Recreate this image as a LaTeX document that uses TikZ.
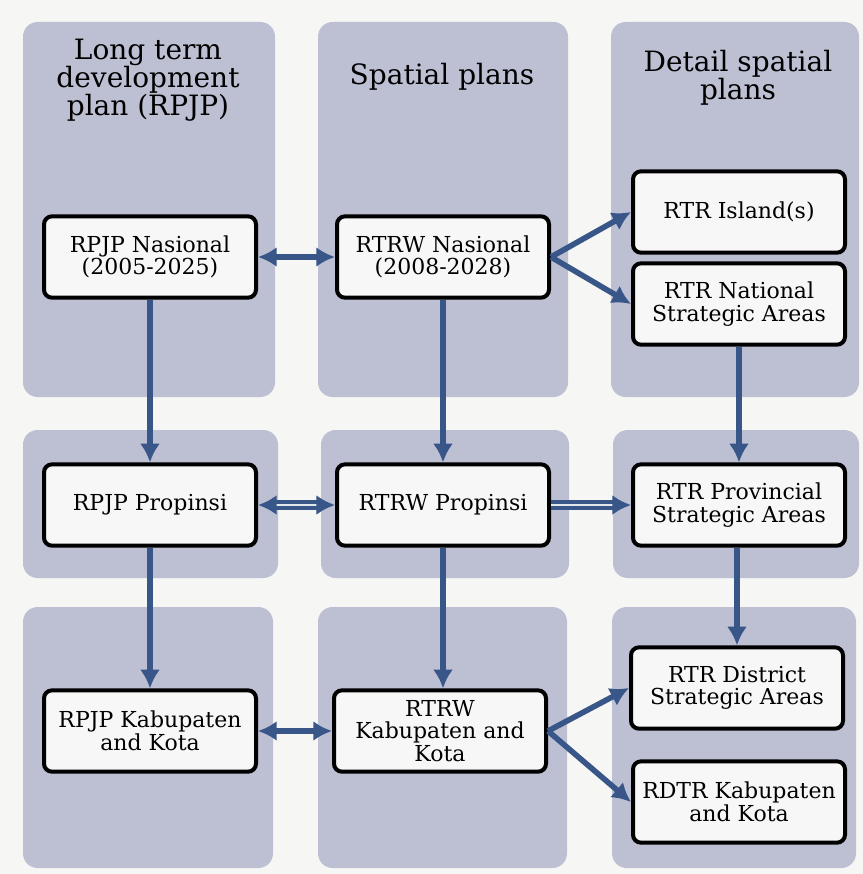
\documentclass[tikz,border=0pt]{standalone}
\usepackage{fontspec}
\setmainfont{DejaVu Serif}
\usepackage{xcolor}
\usetikzlibrary{arrows.meta}
\definecolor{pagebg}{RGB}{246,246,244}
\definecolor{panelgrey}{RGB}{189,191,211}
\definecolor{flowblue}{RGB}{56,86,136}
\tikzstyle{panel} = [fill=panelgrey, rounded corners=11pt]
\tikzstyle{paneltitle} = [align=center, text=black, font=\fontsize{21}{21}\selectfont]
\tikzstyle{planbox} = [draw=black, fill=white!97!black, line width=3pt, rectangle, rounded corners=6pt, minimum width=159pt, minimum height=61pt, align=center, inner sep=2pt, text=black, font=\fontsize{16.5}{17}\selectfont]
\tikzstyle{flow} = [draw=flowblue, line width=4.2pt, -{Latex[length=14pt,width=15pt]}]
\tikzstyle{flowboth} = [flow, {Latex[length=14pt,width=15pt]}-{Latex[length=14pt,width=15pt]}]
\tikzstyle{flowdouble} = [flow, line width=2.6pt, double=white!85!flowblue, double distance=1.6pt]

\begin{document}
\begin{tikzpicture}[x=0.75pt, y=-0.75pt]
\fill[pagebg] (0,0) rectangle (863,874);
\useasboundingbox (0,0) rectangle (863,874);

% columns
\path[panel] (23,22) rectangle (275,397);
\path[panel] (318,22) rectangle (568,397);
\path[panel] (611,22) rectangle (859,397);
\path[panel] (23,430) rectangle (278,578);
\path[panel] (321,430) rectangle (569,578);
\path[panel] (613,430) rectangle (859,578);
\path[panel] (23,607) rectangle (273,868);
\path[panel] (318,607) rectangle (567,868);
\path[panel] (612,607) rectangle (856,868);

\node[paneltitle] (ttlRPJP) at (148,80) {Long term\\development\\plan (RPJP)};
\node[paneltitle] (ttlRTRW) at (442,77) {Spatial plans};
\node[paneltitle] (ttlRTR) at (738,78) {Detail spatial\\plans};

% national
\node[planbox] (nasRPJP) at (150,257) {RPJP Nasional\\(2005-2025)};
\node[planbox] (nasRTRW) at (443,257) {RTRW Nasional\\(2008-2028)};
\node[planbox] (island) at (739,212) {RTR Island(s)};
\node[planbox] (nasRTR) at (739,304) {RTR National\\Strategic Areas};

% province
\node[planbox] (provRPJP) at (150,505) {RPJP Propinsi};
\node[planbox] (provRTRW) at (443,505) {RTRW Propinsi};
\node[planbox] (provRTR) at (739,505) {RTR Provincial\\Strategic Areas};

% kabupaten / kota
\node[planbox] (kabRPJP) at (150,731) {RPJP Kabupaten\\and Kota};
\node[planbox] (kabRTRW) at (440,731) {RTRW\\Kabupaten and\\Kota};
\node[planbox] (district) at (737,688) {RTR District\\Strategic Areas};
\node[planbox] (rdtr) at (739,802) {RDTR Kabupaten\\and Kota};

\draw[flowboth] (nasRPJP) -- (nasRTRW);
\draw[flow] (nasRTRW.east) -- (island.west);
\draw[flow] (nasRTRW.east) -- (nasRTR.west);
\draw[flow] (nasRPJP) -- (provRPJP);
\draw[flow] (nasRTRW) -- (provRTRW);
\draw[flow] (nasRTR) -- (provRTR);

\draw[flowdouble, {Latex[length=14pt,width=15pt]}-{Latex[length=14pt,width=15pt]}] (provRPJP) -- (provRTRW);
\draw[flowdouble] (provRTRW) -- (provRTR);
\draw[flow] (provRPJP) -- (kabRPJP);
\draw[flow] (provRTRW.south -| nasRTRW) -- (kabRTRW.north -| nasRTRW);
\draw[flow] (provRTR.south -| district) -- (district);

\draw[flowboth] (kabRPJP) -- (kabRTRW);
\draw[flow] (kabRTRW.east) -- (district.west);
\draw[flow] (kabRTRW.east) -- (rdtr.west);
\end{tikzpicture}
\end{document}
